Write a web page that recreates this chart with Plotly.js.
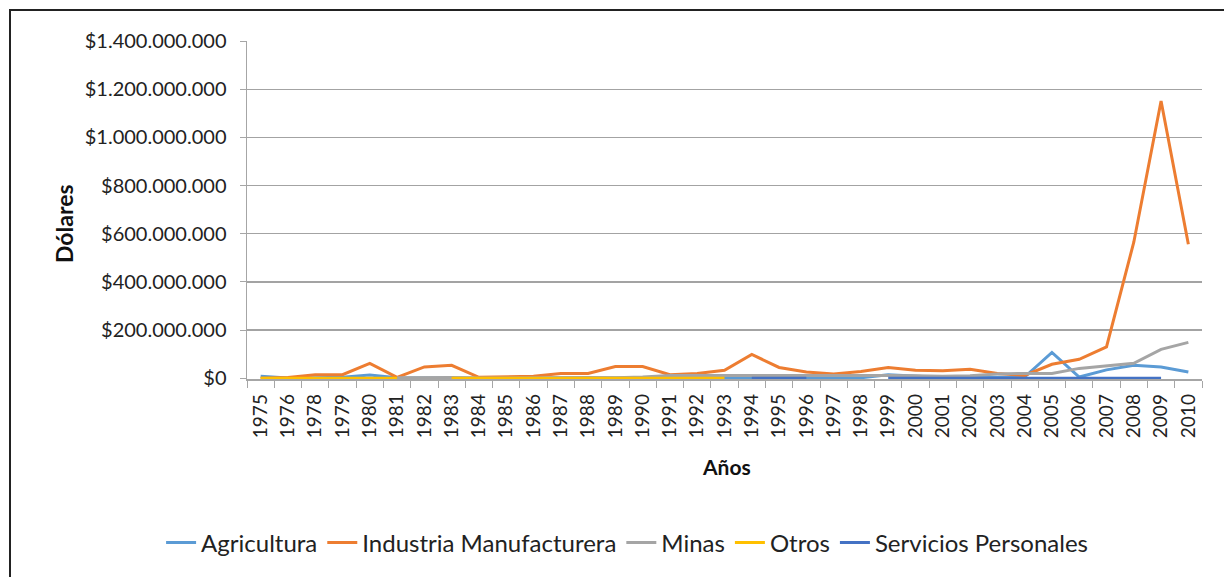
<!DOCTYPE html>
<html>
<head>
<meta charset="utf-8">
<script src="https://cdn.plot.ly/plotly-3.0.1.min.js"></script>
<style>
  html, body { margin: 0; padding: 0; background: #fff; overflow: hidden; }
  #frame { position: absolute; left: 9px; top: 9px; width: 1300px; height: 700px; border: 2px solid #222; box-sizing: border-box; }
  #chart { position: absolute; left: 0; top: 0; width: 1224px; height: 577px; }
</style>
</head>
<body>
<div id="frame"></div>
<div id="chart"></div>
<script>
const years = ['1975','1976','1978','1979','1980','1981','1982','1983','1984','1985','1986','1987','1988','1989','1990','1991','1992','1993','1994','1995','1996','1997','1998','1999','2000','2001','2002','2003','2004','2005','2006','2007','2008','2009','2010'];

const agricultura = [8e6,1e6,2e6,4e6,14e6,2e6,1e6,1e6,1e6,1e6,1e6,1e6,1e6,1e6,1e6,3e6,3e6,3e6,3e6,3e6,1e6,1e6,2e6,15e6,8e6,3e6,3e6,3e6,5e6,107e6,5e6,35e6,54e6,47e6,26e6];

const industria = [0,3e6,15e6,15e6,62e6,4e6,47e6,54e6,4e6,5e6,8e6,20e6,20e6,49e6,49e6,15e6,20e6,33e6,99e6,45e6,26e6,18e6,28e6,45e6,33e6,31e6,37e6,20e6,12e6,58e6,79e6,130e6,565e6,1151e6,556e6];

const minas = [null,null,null,null,null,2e6,3e6,3e6,1e6,2e6,3e6,3e6,3e6,2e6,5e6,12e6,12e6,14e6,14e6,15e6,15e6,15e6,15e6,12e6,10e6,8e6,10e6,18e6,20e6,20e6,41e6,50e6,62e6,120e6,149e6];

const otros = [0,0,0,0,0,0,null,0,0,0,0,0,0,0,0,0,0,0,null,null,null,null,null,null,null,null,null,null,null,null,null,null,null,null,null];

const servicios = [null,null,null,null,null,null,null,null,null,null,null,null,null,null,null,null,null,null,0,0,0,null,null,0,0,0,0,0,0,0,0,0,0,0,null];

const seriesNames = ['Agricultura','Industria Manufacturera','Minas','Otros','Servicios Personales'];
const seriesData = [agricultura, industria, minas, otros, servicios];
const seriesColors = ['#5B9BD5','#ED7D31','#A5A5A5','#FFC000','#4472C4'];

const traces = seriesNames.map((n, i) => ({
  type: 'scatter',
  mode: 'lines',
  name: n,
  x: years,
  y: seriesData[i],
  connectgaps: false,
  line: { color: seriesColors[i], width: 3 },
  hoverinfo: 'x+y+name'
}));

const FONT = 'Lato, "Open Sans", sans-serif';

const layout = {
  width: 1224,
  height: 577,
  margin: { l: 247, r: 22, t: 41, b: 198, autoexpand: false },
  paper_bgcolor: 'rgba(0,0,0,0)',
  plot_bgcolor: 'rgba(0,0,0,0)',
  separators: ',.',
  font: { family: FONT, size: 19, color: '#222' },
  showlegend: true,
  legend: {
    orientation: 'h',
    x: 0.398, xanchor: 'center',
    y: -0.485, yanchor: 'middle',
    font: { family: FONT, size: 24, color: '#222' },
    itemwidth: 30,
    tracegroupgap: 0
  },
  xaxis: {
    type: 'category',
    range: [-0.5, years.length - 0.5],
    tickangle: -90,
    tickfont: { family: FONT, size: 19, color: '#222' },
    ticklabelstandoff: 6,
    showline: true,
    linecolor: '#a6a6a6',
    linewidth: 1.5,
    ticks: 'outside',
    tickson: 'boundaries',
    ticklen: 7,
    tickcolor: '#a6a6a6',
    showgrid: false,
    automargin: false,
    fixedrange: true
  },
  yaxis: {
    range: [-3e6, 1.4e9],
    tickvals: [0, 2e8, 4e8, 6e8, 8e8, 1e9, 1.2e9, 1.4e9],
    tickformat: '$,.0f',
    tickfont: { family: FONT, size: 20, color: '#222' },
    ticklabelstandoff: 9,
    showline: true,
    linecolor: '#a6a6a6',
    linewidth: 1.5,
    ticks: 'outside',
    ticklen: 6,
    tickcolor: '#a6a6a6',
    showgrid: true,
    gridcolor: '#a3a3a3',
    gridwidth: 1.3,
    zeroline: false,
    automargin: false,
    fixedrange: true
  },
  annotations: [
    { text: '<b>Dólares</b>', xref: 'paper', yref: 'paper', x: -0.1916, y: 0.4586,
      xanchor: 'center', yanchor: 'middle', textangle: -90, showarrow: false,
      font: { family: FONT, size: 23, color: '#111' } },
    { text: '<b>Años</b>', xref: 'paper', yref: 'paper', x: 0.5026, y: -0.2574,
      xanchor: 'center', yanchor: 'middle', showarrow: false,
      font: { family: FONT, size: 21, color: '#111' } }
  ]
};

Plotly.newPlot('chart', traces, layout, { displayModeBar: false, staticPlot: true });
</script>
</body>
</html>
